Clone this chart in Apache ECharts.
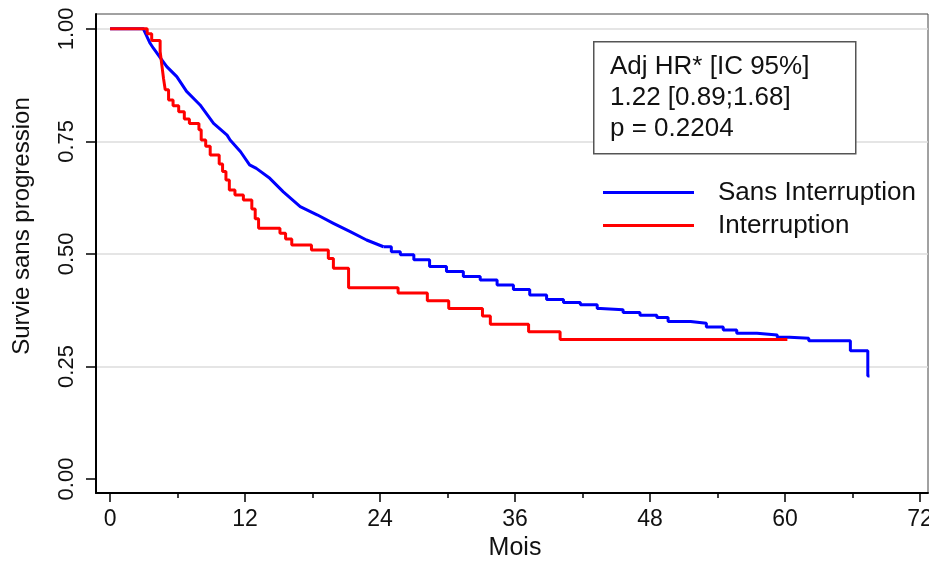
<!DOCTYPE html>
<html>
<head>
<meta charset="utf-8">
<script src="https://cdn.jsdelivr.net/npm/echarts@6/dist/echarts.min.js"></script>
<style>
  html, body { margin: 0; padding: 0; background: #fff; }
  #chart { width: 929px; height: 562px; }
</style>
</head>
<body>
<div id="chart"></div>
<script>
// Sans Interruption, early part: traced as a near-continuous curve (very small steps)
var sansEarlyTimes = [0, 2.96, 3.56, 3.85, 4.6, 5.04, 5.93, 6.8, 8.0, 9.2, 10.4, 10.67, 11.6, 12.4, 13.0, 14.2,
  15.4, 16.9, 18.4, 19.85, 21.3, 22.8, 24.3];
var sansEarlySurv = [1, 1, 0.968, 0.957, 0.931, 0.916, 0.894, 0.861, 0.831, 0.79, 0.764, 0.753, 0.727, 0.698, 0.69,
  0.668, 0.638, 0.605, 0.587, 0.568, 0.55, 0.531, 0.516];
// Sans Interruption, later part: visible Kaplan-Meier steps (time -> survival after the drop)
var sansLateTimes = [24.3, 25.0, 25.8, 27.0, 28.4, 29.9, 31.4, 32.9, 34.4, 35.85, 37.3, 38.8, 40.3, 41.8, 43.3, 43.6,
  45.6, 47.1, 48.6, 49.6, 51.6, 53.0, 54.5, 55.7, 57.5, 59.3, 60.4, 62.1, 65.8, 67.35, 67.5];
var sansLateSurv = [0.516, 0.505, 0.498, 0.487, 0.472, 0.461, 0.45, 0.442, 0.431, 0.421, 0.409, 0.399, 0.392, 0.387,
  0.379, 0.376, 0.37, 0.364, 0.359, 0.35, 0.346, 0.338, 0.331, 0.324, 0.32, 0.315, 0.313, 0.307, 0.285, 0.229, 0.229];

// Interruption: Kaplan-Meier steps
var interTimes = [0, 3.3, 3.7, 4.45, 4.6, 4.75, 4.9, 5.2, 5.6, 6.1, 6.6, 7.05, 7.9, 8.1, 8.5, 8.9, 9.7, 10.0, 10.3,
  10.6, 11.1, 11.85, 12.6, 12.9, 13.2, 15.1, 15.6, 16.15, 17.9, 19.4, 19.85, 21.2, 25.6, 28.2, 30.1, 33.1, 33.8,
  37.2, 40.0, 60.2];
var interSurv = [1, 0.989, 0.974, 0.95, 0.92, 0.89, 0.865, 0.842, 0.829, 0.816, 0.80, 0.79, 0.776, 0.753, 0.739,
  0.72, 0.70, 0.683, 0.664, 0.642, 0.631, 0.62, 0.60, 0.578, 0.557, 0.546, 0.533, 0.52, 0.509, 0.49, 0.468, 0.425,
  0.413, 0.396, 0.379, 0.362, 0.344, 0.327, 0.31, 0.31];

var seriesNames = ['Sans Interruption', 'Interruption'];
var xMajor = [0, 12, 24, 36, 48, 60, 72];
var xMinor = [6, 18, 30, 42, 54, 66];
var yTicks = [0, 0.25, 0.5, 0.75, 1];
var yGrid = [0.25, 0.5, 0.75, 1];
var statLines = ['Adj HR* [IC 95%]', '1.22 [0.89;1.68]', 'p = 0.2204'];

var FONT = 'Liberation Sans, Arial, sans-serif';
var BLUE = '#0000ff', RED = '#ff0000';

function pairs(t, s) {
  return t.map(function (v, i) { return [v, s[i]]; });
}

var chart = echarts.init(document.getElementById('chart'), null, { renderer: 'canvas' });

var option = {
  animation: false,
  backgroundColor: '#fff',
  textStyle: { fontFamily: FONT },
  grid: {
    left: 96, right: 1, top: 14, bottom: 69,
    containLabel: false, outerBoundsMode: 'none',
    show: true, borderColor: '#444', borderWidth: 1, backgroundColor: 'transparent'
  },
  legend: {
    orient: 'vertical',
    left: 598,
    top: 171,
    itemWidth: 91,
    itemHeight: 3,
    itemGap: 0,
    icon: 'rect',
    data: seriesNames,
    textStyle: { fontSize: 26, color: '#111', fontFamily: FONT, lineHeight: 24, padding: [0, 0, 9, 19] }
  },
  xAxis: [
    {
      type: 'value', min: -1.25, max: 72.7,
      axisLine: { show: true, onZero: false, lineStyle: { color: '#000', width: 2 } },
      axisTick: { show: true, length: 9, customValues: xMajor, lineStyle: { color: '#000', width: 1.5 } },
      axisLabel: { customValues: xMajor, fontSize: 23, color: '#111', margin: 15, fontFamily: FONT },
      splitLine: { show: false }
    },
    {
      type: 'value', min: -1.25, max: 72.7, position: 'bottom',
      axisLine: { show: false, onZero: false },
      axisTick: { show: true, length: 5, customValues: xMinor, lineStyle: { color: '#000', width: 1.5 } },
      axisLabel: { show: false },
      splitLine: { show: false }
    }
  ],
  yAxis: [
    {
      type: 'value', min: -0.031, max: 1.033,
      axisLine: { show: true, onZero: false, lineStyle: { color: '#000', width: 2 } },
      axisTick: { show: true, length: 10, customValues: yTicks, lineStyle: { color: '#000', width: 1.5 } },
      axisLabel: {
        customValues: yTicks, rotate: 90, fontSize: 22, color: '#111', margin: 18, fontFamily: FONT,
        formatter: function (v) { return v.toFixed(2); }
      },
      splitLine: { show: false }
    },
    {
      type: 'value', min: -0.031, max: 1.033, position: 'left',
      axisLine: { show: false, onZero: false },
      axisTick: { show: false, customValues: yGrid },
      axisLabel: { show: false, customValues: yGrid },
      splitLine: { show: true, lineStyle: { color: '#dcdcdc', width: 1.5 } }
    }
  ],
  series: [
    {
      name: seriesNames[0], type: 'line', showSymbol: false,
      data: pairs(sansEarlyTimes, sansEarlySurv),
      color: BLUE,
      lineStyle: { color: BLUE, width: 3, join: 'round' }
    },
    {
      name: seriesNames[0], type: 'line', step: 'end', showSymbol: false,
      data: pairs(sansLateTimes, sansLateSurv),
      color: BLUE,
      lineStyle: { color: BLUE, width: 3 }
    },
    {
      name: seriesNames[1], type: 'line', step: 'end', showSymbol: false,
      data: pairs(interTimes, interSurv),
      color: RED,
      lineStyle: { color: RED, width: 3 }
    }
  ],
  graphic: [
    {
      type: 'rect', left: 593, top: 41, z: 50,
      shape: { width: 262, height: 112 },
      style: { fill: '#fff', stroke: '#555', lineWidth: 1.5 }
    },
    {
      type: 'text', left: 610, top: 51, z: 51,
      style: {
        text: statLines.join('\n'), font: '26px ' + FONT, fill: '#111', lineHeight: 31
      }
    },
    {
      type: 'text', x: 22, y: 226, rotation: Math.PI / 2, z: 51,
      style: {
        text: 'Survie sans progression', font: '24px ' + FONT, fill: '#111',
        align: 'center', verticalAlign: 'middle'
      }
    },
    {
      type: 'text', x: 515, y: 548, z: 51,
      style: {
        text: 'Mois', font: '25px ' + FONT, fill: '#111',
        align: 'center', verticalAlign: 'middle'
      }
    }
  ]
};

chart.setOption(option);
window.onresize = function () { chart.resize(); };
</script>
</body>
</html>
